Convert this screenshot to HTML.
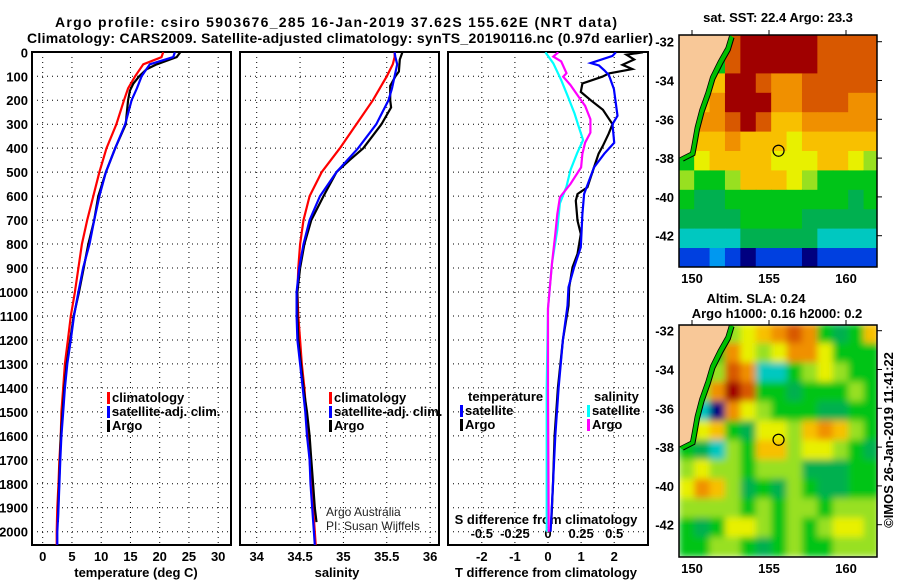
<!DOCTYPE html>
<html><head><meta charset="utf-8"><style>
html,body{margin:0;padding:0;background:#fff;}
svg{display:block;font-family:"Liberation Sans",Arial,sans-serif;}
.b{font-weight:bold;font-size:13px;}
</style></head><body>
<svg id="c" width="900" height="580" viewBox="0 0 900 580" xmlns="http://www.w3.org/2000/svg">
<defs>
<clipPath id="clipTop"><rect x="679" y="35" width="198" height="232"/></clipPath>
<clipPath id="clipBot"><rect x="679" y="325" width="198" height="232"/></clipPath>
<clipPath id="clipP1"><rect x="32" y="52" width="199" height="493"/></clipPath>
<clipPath id="clipP2"><rect x="240" y="52" width="199" height="493"/></clipPath>
<clipPath id="clipP3"><rect x="448" y="52" width="200" height="493"/></clipPath>
<filter id="blur" x="-0.05" y="-0.05" width="1.1" height="1.1"><feGaussianBlur stdDeviation="3.5" edgeMode="duplicate"/></filter>
</defs>
<text x="336" y="27" text-anchor="middle" class="b" style="font-size:14px" textLength="562">Argo profile: csiro 5903676_285 16-Jan-2019 37.62S 155.62E (NRT data)</text>
<text x="340" y="43" text-anchor="middle" class="b" style="font-size:14px" textLength="626">Climatology: CARS2009. Satellite-adjusted climatology: synTS_20190116.nc (0.97d earlier)</text>
<g id="root"></g>
</svg>
<script>
// ---- profile data ----
const depthsClim = [0,20,50,100,150,200,300,400,500,600,700,800,900,1000,1100,1200,1300,1400,1500,1600,1700,1800,1900,2000,2055];
const tempClim = [20.6,20.3,17.2,15.8,14.6,13.9,12.6,10.9,9.7,8.65,7.6,6.7,6.1,5.5,4.8,4.3,3.8,3.5,3.2,3.1,2.85,2.7,2.5,2.4,2.4];
const tempSat = [22.6,22.3,18.3,16.9,16.1,15.2,14.1,12.4,10.8,9.7,8.8,8.0,6.9,6.1,5.35,4.8,4.2,3.8,3.5,3.2,3.0,2.85,2.7,2.5,2.5];
const depthsArgoT = [0,20,50,70,100,130,160,200,270,300,400,500,600,700,800,900,1000,1100,1200,1300,1400,1500,1600,1700,1800,1900,1960];
const tempArgo = [23.5,22.9,19.5,17.8,16.5,15.5,14.9,14.6,14.3,14.2,12.4,10.8,9.5,8.8,7.8,7.0,6.2,5.3,4.7,4.1,3.7,3.4,3.1,2.95,2.8,2.65,2.6];
const salClim = [35.59,35.59,35.57,35.50,35.42,35.34,35.15,34.96,34.75,34.61,34.54,34.50,34.48,34.47,34.48,34.50,34.52,34.55,34.57,34.60,34.61,34.63,34.65,34.67,34.68];
const salSat = [35.59,35.60,35.62,35.59,35.56,35.52,35.38,35.17,34.92,34.73,34.61,34.54,34.49,34.46,34.46,34.47,34.50,34.53,34.56,34.58,34.61,34.62,34.64,34.66,34.67];
const depthsArgoS = [0,30,80,100,140,200,230,300,400,450,500,600,700,800,900,1000,1100,1200,1300,1400,1500,1600,1700,1800,1900,1960];
const salArgo = [35.68,35.65,35.64,35.60,35.54,35.54,35.55,35.44,35.23,35.07,34.92,34.77,34.63,34.55,34.50,34.47,34.47,34.48,34.51,34.54,34.58,34.61,34.63,34.65,34.67,34.69];
const depthsDTArgo = [0,10,30,52,70,88,102,130,165,200,240,300,340,390,423,480,563,591,619,702,758,841,897,980,1057,1200,1400,1600,1800,1960];
const dTArgo = [2.87,2.37,2.6,2.25,2.55,1.84,1.64,1.04,0.99,1.29,1.66,1.95,1.83,1.66,1.53,1.39,1.19,0.89,0.84,0.89,0.99,0.89,0.74,0.64,0.62,0.45,0.3,0.2,0.15,0.1];
const depthsDTSat = [0,15,45,55,75,95,153,265,300,377,423,480,591,675,813,897,980,1057,1200,1400,1600,1800,2000];
const dTSat = [2.05,1.95,1.29,1.54,1.7,1.84,1.99,2.1,1.95,2.0,1.7,1.39,1.09,1.04,0.99,0.79,0.62,0.59,0.45,0.32,0.22,0.15,0.08];
const depthsDSArgo = [0,18,38,87,102,137,185,223,279,335,377,423,480,549,577,605,675,758,880,1068,1400,2000];
const dSArgo = [0.078,0.04,0.10,0.14,0.115,0.17,0.23,0.28,0.32,0.32,0.28,0.26,0.25,0.17,0.13,0.09,0.07,0.055,0.03,0.0,0.0,0.005];
const depthsDSSat = [0,46,116,185,255,324,366,421,491,560,630,741,880,1068,1400,2000];
const dSSat = [-0.02,0.04,0.10,0.15,0.2,0.24,0.265,0.22,0.17,0.14,0.09,0.07,0.03,0.0,-0.01,-0.01];
const depthTicks = [0,100,200,300,400,500,600,700,800,900,1000,1100,1200,1300,1400,1500,1600,1700,1800,1900,2000];
const tempTicks = [0,5,10,15,20,25,30];
const salTicks = [34,34.5,35,35.5,36];
const salTickLabels = ["34","34.5","35","35.5","36"];
const dTTicks = [-2,-1,0,1,2];
const dSTicks = [-0.5,-0.25,0,0.25,0.5];
const dSTickLabels = ["-0.5","-0.25","0","0.25","0.5"];
// ---- map data (1-degree cells from 149.16E, -31.65 southward) ----
const sstRows = [
[5,5,5,10,11,11,11,11,11,10,10,10,10],
[5,5,5,10,11,11,11,11,11,10,10,10,10],
[5,5,8,11,11,10,9,9,10,10,10,10,10],
[5,8,9,11,11,11,9,9,10,10,10,9,9],
[5,9,9,10,11,10,8,8,9,9,9,9,9],
[5,8,8,9,8,8,8,7,8,8,8,8,8],
[5,7,8,8,8,8,7,7,7,8,8,7,6],
[6,5,5,6,8,8,8,7,6,5,5,5,5],
[5,4,4,5,5,5,5,5,5,5,5,4,5],
[4,4,4,4,5,5,5,5,4,4,4,4,4],
[3,3,3,3,4,4,4,4,4,3,3,3,3],
[1,1,2,1,0,1,1,1,0,1,1,1,1]];
const slaRows = [
[5,5,5,6,7,8,9,10,9,5,4,5,8],
[5,5,5,9,7,6,7,9,9,7,5,5,5],
[5,5,6,10,9,3,3,5,6,7,6,5,5],
[5,6,9,11,10,5,5,4,5,5,5,6,5],
[5,3,0,9,7,6,5,5,5,4,4,5,5],
[5,7,8,5,4,7,7,6,8,9,8,6,5],
[5,4,3,6,5,8,8,6,7,7,6,5,4],
[6,7,6,6,5,6,6,6,4,4,4,5,5],
[7,9,8,6,4,5,4,6,5,4,4,5,5],
[6,6,6,6,5,6,5,6,6,5,6,6,6],
[5,4,5,7,7,6,5,6,5,6,7,7,6],
[5,5,6,6,5,4,5,6,5,5,6,6,6]];
const coastLon = [152.45,152.2,151.7,151.2,150.9,150.5,150.2,150.0,149.9,149.4,149.16];
const coastLat = [-31.65,-32.3,-33.0,-33.8,-34.6,-35.5,-36.4,-37.3,-37.7,-37.9,-38.0];
const argoLon = 155.62, argoLat = -37.62;

const cmap = ["#000080","#0040e0","#0098f0","#00c8c0","#00b050","#00c418","#98e020","#e8f000","#f8c000","#f09000","#d85800","#a00000"];
const NS = "http://www.w3.org/2000/svg";
const root = document.getElementById('root');
function mk(tag, parent){ const e=document.createElementNS(NS,tag); (parent||root).appendChild(e); return e; }
function sa(e,o){ for(const k in o) e.setAttribute(k,o[k]); return e; }

const yD = d => 52.3 + d*0.2397;
const xT = t => 42.7 + t*5.85;
const xS = s => 256.7 + (s-34)*86.7;
const xDT = t => 548 + t*33.1;
const xDS = s => 548 + s*4*33.1;

function panel(x0,x1,name,gridXs){
  const g = mk('g');
  
  
  depthTicks.forEach(d=>{
    const l=mk('line',g); sa(l,{x1:x0,x2:x1,y1:yD(d),y2:yD(d),stroke:'#000','stroke-width':1,'stroke-dasharray':'1 4'});
    
    
  });
  gridXs.forEach(x=>{
    const l=mk('line',g); sa(l,{x1:x,x2:x,y1:52,y2:545,stroke:'#000','stroke-width':1,'stroke-dasharray':'1 4'});
    
    
  });
  const r=mk('rect',g); sa(r,{x:x0,y:52,width:x1-x0,height:493,fill:'none',stroke:'#000','stroke-width':2});
  
  
  return g;
}
panel(32,231,'temperature-panel',tempTicks.map(xT));
panel(240,439,'salinity-panel',salTicks.map(xS));
panel(448,648,'difference-panel',dTTicks.map(xDT));

depthTicks.forEach(d=>{
  const t=mk('text'); sa(t,{x:28,y:yD(d)+5,'text-anchor':'end','class':'b'}); t.textContent=d;
  
  
});
function xlabels(ticks,labels,fx,y){
  ticks.forEach((v,i)=>{
    const t=mk('text'); sa(t,{x:fx(v),y:y,'text-anchor':'middle','class':'b'}); t.textContent=labels[i];
    
    
  });
}
xlabels(tempTicks,tempTicks.map(String),xT,561);
xlabels(salTicks,salTickLabels,xS,561);
xlabels(dTTicks,dTTicks.map(String),xDT,561);
xlabels(dSTicks,dSTickLabels,xDS,538);
function txt(x,y,s,name,anchor,extra){
  const t=mk('text'); sa(t,{x:x,y:y,'text-anchor':anchor||'start','class':'b'}); if(extra) sa(t,extra); t.textContent=s;
  
  
  return t;
}
txt(136,577,'temperature (deg C)','x-axis-title-temperature','middle');
txt(337,577,'salinity','x-axis-title-salinity','middle');
txt(546,577,'T difference from climatology','x-axis-title-t-diff','middle');
txt(546,524,'S difference from climatology','s-axis-title','middle');

function series(ds,vs,fx,color,name,clip,w){
  const p=mk('polyline'); sa(p,{points:ds.map((d,i)=>fx(vs[i]).toFixed(1)+','+yD(d).toFixed(1)).join(' '),fill:'none',stroke:color,'stroke-width':w||2.2,'clip-path':'url(#'+clip+')'});
  
  
}
series(depthsClim,tempClim,xT,'#ff0000','temp-climatology-line','clipP1');
series(depthsArgoT,tempArgo,xT,'#000','temp-argo-line','clipP1');
series(depthsClim,tempSat,xT,'#0000ff','temp-satellite-line','clipP1');
series(depthsClim,salClim,xS,'#ff0000','sal-climatology-line','clipP2');
series(depthsArgoS,salArgo,xS,'#000','sal-argo-line','clipP2');
series(depthsClim,salSat,xS,'#0000ff','sal-satellite-line','clipP2');
series(depthsDTArgo,dTArgo,xDT,'#000','dt-argo-line','clipP3');
series(depthsDTSat,dTSat,xDT,'#0000ff','dt-satellite-line','clipP3');
series(depthsDSSat,dSSat,xDS,'#00ffff','ds-satellite-line','clipP3');
series(depthsDSArgo,dSArgo,xDS,'#ff00ff','ds-argo-line','clipP3');

function legend(x,y,color,label,name){
  const r=mk('rect'); sa(r,{x:x,y:y-10,width:3,height:12,fill:color});
  
  
  txt(x+5,y,label,name);
}
legend(107,402,'#ff0000','climatology','legend-climatology');
legend(107,416,'#0000ff','satellite-adj. clim.','legend-satellite-adj');
legend(107,430,'#000','Argo','legend-argo');
legend(329,402,'#ff0000','climatology','legend2-climatology');
legend(329,416,'#0000ff','satellite-adj. clim.','legend2-satellite-adj');
legend(329,430,'#000','Argo','legend2-argo');
txt(468,401,'temperature','legend-temperature-header');
legend(460,415,'#0000ff','satellite','legend-t-satellite');
legend(460,429,'#000','Argo','legend-t-argo');
txt(594,401,'salinity','legend-salinity-header');
legend(587,415,'#00ffff','satellite','legend-s-satellite');
legend(587,429,'#ff00ff','Argo','legend-s-argo');
const a1=txt(326,516,'Argo Australia','credit-line-1','start',{'font-weight':'normal','fill':'#222','class':''}); a1.style.fontSize='12px';
const a2=txt(326,530,'PI: Susan Wijffels','credit-line-2','start',{'font-weight':'normal','fill':'#222','class':''}); a2.style.fontSize='12px';

// ---- maps ----
function drawMap(rows,yTop,latY,clip,name,blur){
  const xL = lon => 692 + (lon-150)*15.4;
  const yL = lat => latY + (-32-lat)*19.4;
  const g=mk('g'); sa(g,{'clip-path':'url(#'+clip+')'});
  
  
  const cells=mk('g',g); if(blur) sa(cells,{filter:'url(#blur)'});
  rows.forEach((row,r)=>row.forEach((v,c)=>{
    const rc=mk('rect',cells);
    const x=xL(149.16+c), y=yL(-31.65-r);
    sa(rc,{x:x-0.3,y:y-0.3,width:15.4+0.6,height:19.4+0.6,fill:cmap[v]});
    
    
  }));
  const cpts=coastLon.map((lo,i)=>xL(lo).toFixed(1)+','+yL(coastLat[i]).toFixed(1));
  const opts=coastLon.map((lo,i)=>xL(lo+0.28).toFixed(1)+','+yL(coastLat[i]-0.15).toFixed(1));
  const strip=mk('polygon',g); sa(strip,{points:cpts.concat(opts.slice().reverse()).join(' '),fill:'#00c000'});
  
  
  const land=mk('polygon',g); sa(land,{points:cpts.join(' ')+' '+xL(149.0)+','+yL(-38.0)+' '+xL(149.0)+','+yL(-31.4)+' '+xL(152.5)+','+yL(-31.4),fill:'#f8c898',stroke:'#000','stroke-width':0.8});
  
  
  const cl=mk('polyline',g); sa(cl,{points:opts.join(' '),fill:'none',stroke:'#000','stroke-width':1});
  
  
  const m=mk('circle',g); sa(m,{cx:xL(argoLon),cy:yL(argoLat),r:5.5,fill:'none',stroke:'#000','stroke-width':1.2});
  
  
  const fr=mk('rect'); sa(fr,{x:679,y:yTop,width:198,height:232,fill:'none',stroke:'#000','stroke-width':1.5});
  
  
  [-32,-34,-36,-38,-40,-42].forEach(lat=>{
    txt(674,yL(lat)+5,String(lat),'lat-tick-label','end');
    const tk=mk('line'); sa(tk,{x1:877,x2:882,y1:yL(lat),y2:yL(lat),stroke:'#000'});
    
    
  });
  [150,155,160].forEach(lon=>{
    txt(xL(lon),yTop+248,String(lon),'lon-tick-label','middle');
    const tk=mk('line'); sa(tk,{x1:xL(lon),x2:xL(lon),y1:yTop-5,y2:yTop,stroke:'#000'});
    
    
  });
}
drawMap(sstRows,35,41.7,'clipTop','sst-map',false);
drawMap(slaRows,325,330.7,'clipBot','sla-map',true);
txt(778,22,'sat. SST: 22.4 Argo: 23.3','sst-map-title','middle');
txt(756,303,'Altim. SLA: 0.24','sla-map-title','middle');
txt(777,318,'Argo h1000: 0.16 h2000: 0.2','sla-map-subtitle','middle');
const cr=txt(0,0,'\u00A9IMOS 26-Jan-2019 11:41:22','imos-timestamp','middle',{transform:'translate(893,440) rotate(-90)','font-weight':'normal'}); cr.style.fontSize='13px';
</script>
</body></html>
